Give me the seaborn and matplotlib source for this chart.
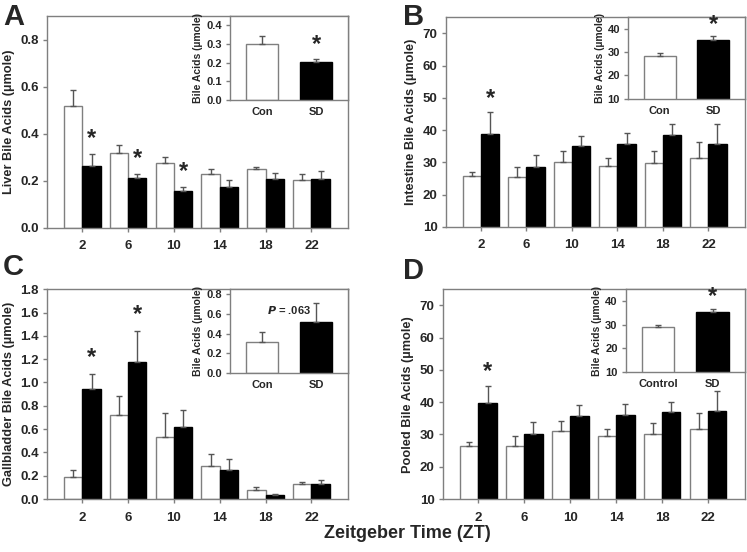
import matplotlib
matplotlib.use("Agg")
import matplotlib.pyplot as plt
import numpy as np
import pandas as pd
import seaborn as sns

sns.set_style("white")
plt.rcParams["font.family"] = ["Liberation Sans", "DejaVu Sans"]
plt.rcParams["font.weight"] = "bold"

# ---------------------------------------------------------------------------
# Data
# ---------------------------------------------------------------------------
zt = ["2", "6", "10", "14", "18", "22"]

liver_con = [0.52, 0.32, 0.275, 0.23, 0.25, 0.205]
liver_con_err = [0.065, 0.033, 0.025, 0.02, 0.01, 0.023]
liver_sd = [0.265, 0.212, 0.155, 0.175, 0.208, 0.21]
liver_sd_err = [0.05, 0.016, 0.02, 0.03, 0.027, 0.03]
liver_inset = [0.30, 0.205]
liver_inset_err = [0.045, 0.015]

intes_con = [25.8, 25.3, 30.1, 29.0, 29.8, 31.4]
intes_con_err = [1.2, 3.2, 3.4, 2.3, 3.7, 4.9]
intes_sd = [38.7, 28.7, 35.0, 35.6, 38.5, 35.6]
intes_sd_err = [6.9, 3.7, 3.2, 3.4, 3.4, 6.2]
intes_inset = [28.5, 35.3]
intes_inset_err = [1.0, 1.5]

gall_con = [0.185, 0.72, 0.535, 0.285, 0.08, 0.125]
gall_con_err = [0.065, 0.165, 0.205, 0.10, 0.02, 0.025]
gall_sd = [0.945, 1.175, 0.62, 0.25, 0.035, 0.13]
gall_sd_err = [0.13, 0.27, 0.145, 0.095, 0.01, 0.035]
gall_inset = [0.32, 0.52]
gall_inset_err = [0.10, 0.19]

pool_con = [26.5, 26.3, 31.0, 29.6, 30.2, 31.8]
pool_con_err = [1.1, 3.2, 3.2, 2.2, 3.5, 4.7]
pool_sd = [39.8, 30.1, 35.8, 36.0, 37.0, 37.3]
pool_sd_err = [5.2, 3.7, 3.2, 3.5, 3.2, 6.1]
pool_inset = [29.0, 35.5]
pool_inset_err = [1.0, 1.3]

GRAY = "#7f7f7f"
ERR = "#555555"


def style_axes(ax, ylim, yticks, fs):
    ax.set_ylim(*ylim)
    ax.set_yticks(yticks)
    for s in ax.spines.values():
        s.set_visible(True)
        s.set_color(GRAY)
        s.set_linewidth(1.0)
    ax.tick_params(axis="y", direction="out", length=3, width=1, color=GRAY,
                   pad=3, labelsize=fs, left=True)
    for lab in ax.get_yticklabels() + ax.get_xticklabels():
        lab.set_fontweight("bold")


def add_errbars(ax, errs_by_group):
    # one container per hue level; draw upper-only error bars
    for cont, errs in zip(ax.containers, errs_by_group):
        xs = [p.get_x() + p.get_width() / 2 for p in cont.patches]
        ys = [p.get_height() for p in cont.patches]
        ax.errorbar(xs, ys, yerr=[np.zeros(len(errs)), errs], fmt="none",
                    ecolor=ERR, elinewidth=1, capsize=2.5, capthick=1, zorder=3)


def color_edges(ax):
    edges = [GRAY, "black"]
    for cont, ec in zip(ax.containers, edges):
        for p in cont.patches:
            p.set_edgecolor(ec)
            p.set_linewidth(1.0)


def main_panel(ax, con, con_err, sd, sd_err, ylim, yticks, fmt, ylabel,
               stars, star_off):
    df = pd.DataFrame({
        "ZT": zt * 2,
        "value": con + sd,
        "group": ["Con"] * len(zt) + ["SD"] * len(zt),
    })
    sns.barplot(data=df, x="ZT", y="value", hue="group",
                palette={"Con": "white", "SD": "black"}, errorbar=None,
                width=0.8, legend=False, ax=ax)
    color_edges(ax)
    add_errbars(ax, [con_err, sd_err])
    ax.set_xlim(-0.77, 5.8)
    style_axes(ax, ylim, yticks, 9.5)
    ax.set_yticklabels([fmt.format(t) for t in yticks], fontweight="bold")
    ax.tick_params(axis="x", direction="out", length=3, width=1, color=GRAY,
                   pad=6, labelsize=9.5, bottom=True)
    ax.set_xlabel("")
    ax.set_ylabel(ylabel, fontsize=9.2, fontweight="bold")
    sd_bars = ax.containers[1].patches
    for i in stars:
        p = sd_bars[i]
        ax.text(p.get_x() + p.get_width() / 2, sd[i] + sd_err[i] + star_off, "*",
                ha="center", va="center", fontsize=17, fontweight="bold")


def inset_panel(fig, rect, labels, vals, errs, ylim, yticks, fmt, star=None,
                star_off=0.0, ptext=None):
    ax = fig.add_axes(rect)
    ax.set_facecolor("white")
    sns.barplot(x=labels, y=vals, hue=labels,
                palette={labels[0]: "white", labels[1]: "black"},
                errorbar=None, width=0.6, legend=False, ax=ax)
    for p, ec in zip(ax.patches, [GRAY, "black"]):
        p.set_edgecolor(ec)
        p.set_linewidth(1.0)
    for cont, e in zip(ax.containers, errs):
        p = cont.patches[0]
        ax.errorbar([p.get_x() + p.get_width() / 2], [p.get_height()],
                    yerr=[[0], [e]], fmt="none", ecolor=ERR, elinewidth=1,
                    capsize=2.5, capthick=1, zorder=3)
    ax.set_xlim(-0.59, 1.59)
    style_axes(ax, ylim, yticks, 8)
    ax.set_yticklabels([fmt.format(t) for t in yticks], fontweight="bold")
    ax.tick_params(axis="x", length=0, pad=5, labelsize=8)
    for lab in ax.get_xticklabels():
        lab.set_fontweight("bold")
    ax.set_ylabel("Bile Acids (\u00b5mole)", fontsize=7.5, fontweight="bold",
                  labelpad=2)
    if star is not None:
        ax.text(star, vals[star] + errs[star] + star_off, "*", ha="center",
                va="center", fontsize=17, fontweight="bold")
    if ptext is not None:
        ax.text(0.5, 0.64, ptext, ha="center", va="center", fontsize=8,
                fontweight="bold")
    return ax


fig = plt.figure(figsize=(7.47, 5.52), dpi=100)

# Panel A
axA = fig.add_axes([0.063, 0.587, 0.403, 0.384])
main_panel(axA, liver_con, liver_con_err, liver_sd, liver_sd_err,
           (0, 0.9), [0, 0.2, 0.4, 0.6, 0.8], "{:.1f}",
           "Liver Bile Acids (\u00b5mole)", [0, 1, 2], 0.065)
inset_panel(fig, [0.308, 0.819, 0.158, 0.152], ["Con", "SD"], liver_inset,
            liver_inset_err, (0, 0.45), [0, 0.1, 0.2, 0.3, 0.4], "{:.1f}",
            star=1, star_off=0.078)

# Panel B
axB = fig.add_axes([0.597, 0.589, 0.400, 0.380])
main_panel(axB, intes_con, intes_con_err, intes_sd, intes_sd_err,
           (10, 75), [10, 20, 30, 40, 50, 60, 70], "{:.0f}",
           "Intestine Bile Acids (\u00b5mole)", [0], 4.2)
inset_panel(fig, [0.841, 0.821, 0.156, 0.148], ["Con", "SD"], intes_inset,
            intes_inset_err, (10, 45), [10, 20, 30, 40], "{:.0f}",
            star=1, star_off=5.0)

# Panel C
axC = fig.add_axes([0.063, 0.096, 0.403, 0.380])
main_panel(axC, gall_con, gall_con_err, gall_sd, gall_sd_err,
           (0, 1.8), [0, 0.2, 0.4, 0.6, 0.8, 1.0, 1.2, 1.4, 1.6, 1.8],
           "{:.1f}", "Gallbladder Bile Acids (\u00b5mole)", [0, 1], 0.14)
inset_panel(fig, [0.308, 0.324, 0.158, 0.152], ["Con", "SD"], gall_inset,
            gall_inset_err, (0, 0.85), [0, 0.2, 0.4, 0.6, 0.8], "{:.1f}",
            ptext="$\\bf{\\it{P}}$ = .063")

# Panel D
axD = fig.add_axes([0.593, 0.096, 0.404, 0.380])
main_panel(axD, pool_con, pool_con_err, pool_sd, pool_sd_err,
           (10, 75), [10, 20, 30, 40, 50, 60, 70], "{:.0f}",
           "Pooled Bile Acids (\u00b5mole)", [0], 4.5)
inset_panel(fig, [0.838, 0.326, 0.159, 0.150], ["Control", "SD"], pool_inset,
            pool_inset_err, (10, 45), [10, 20, 30, 40], "{:.0f}",
            star=1, star_off=5.0)

# panel letters and shared x label
for letter, x, y in [("A", 0.004, 0.995), ("B", 0.540, 0.995),
                     ("C", 0.004, 0.542), ("D", 0.540, 0.535)]:
    fig.text(x, y, letter, ha="left", va="top", fontsize=21, fontweight="bold")
fig.text(0.545, 0.034, "Zeitgeber Time (ZT)", ha="center", va="center",
         fontsize=13, fontweight="bold")

fig.savefig("out.png", dpi=100)
